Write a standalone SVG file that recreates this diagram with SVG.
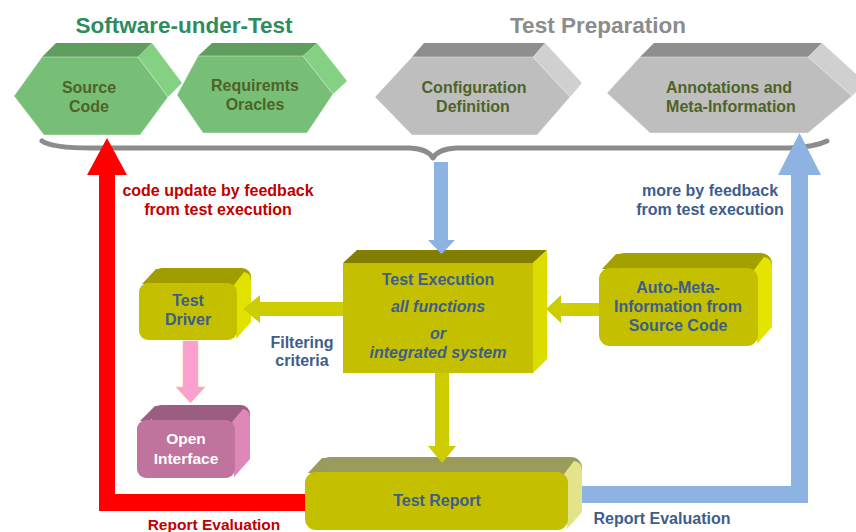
<svg xmlns="http://www.w3.org/2000/svg" width="856" height="532" viewBox="0 0 856 532">
  <style>
    text { font-family: "Liberation Sans", Arial, sans-serif; font-weight: bold; text-anchor: middle; }
    .title { font-size: 22.5px; }
    .hex { font-size: 16px; fill: #4f6228; }
    .lbl { font-size: 16px; fill: #3d5d8c; }
    .it { font-style: italic; }
    .red { fill: #c00000; }
    .white { fill: #ffffff; }
    .gFront { fill: #77bf77; }
    .gTop { fill: #5f9e5f; }
    .gSide { fill: #84d184; }
    .sFront { fill: #bebebe; }
    .sTop { fill: #8e8e8e; }
    .sSide { fill: #d0d0d0; }
    .edge { stroke: #eef6ee; stroke-width: 0.8; stroke-opacity: 0.6; }
    .yFront { fill: #c4c000; }
    .brace { fill: none; stroke: #8c8c8c; stroke-width: 5; stroke-linecap: round; stroke-linejoin: round; }
    .yArrow { fill: #cccc00; }
  </style>

  <!-- group headings -->
  <text class="title" x="184" y="33" fill="#2f8c5f">Software-under-Test</text>
  <text class="title" x="598" y="33" fill="#8c8c8c">Test Preparation</text>

  <!-- hexagonal input blocks -->
  <g id="source-code">
    <polygon class="gTop" points="42,57 56,43 152,43 138,57"/>
    <polygon class="gSide" points="138,57 152,43 182,83 168,97"/>
    <polygon class="gFront edge" points="14,96 42,57 138,57 168,97 140,135 44,135"/>
    <text class="hex" x="89" y="92.5">Source</text>
    <text class="hex" x="89" y="111.5">Code</text>
  </g>
  <g id="requirements-oracles">
    <polygon class="gTop" points="198,56 212,43 317,43 303,56"/>
    <polygon class="gSide" points="303,56 317,43 347,81 333,94"/>
    <polygon class="gFront edge" points="177,95 198,56 303,56 333,94 307,133 203,133"/>
    <text class="hex" x="255" y="90.5">Requiremts</text>
    <text class="hex" x="255" y="109.5">Oracles</text>
  </g>
  <g id="configuration-definition">
    <polygon class="sTop" points="412,57 424,43 545,43 533,57"/>
    <polygon class="sSide" points="533,57 545,43 582,83 570,97"/>
    <polygon class="sFront edge" points="375,97 412,57 533,57 570,97 537,135 412,135"/>
    <text class="hex" x="474" y="92.5">Configuration</text>
    <text class="hex" x="473" y="112">Definition</text>
  </g>
  <g id="annotations-meta">
    <polygon class="sTop" points="640,57 654,43 822,43 808,57"/>
    <polygon class="sSide" points="808,57 822,43 866,83 852,96"/>
    <polygon class="sFront edge" points="607,93 640,57 808,57 852,96 808,133 650,133"/>
    <text class="hex" x="729" y="92.5">Annotations and</text>
    <text class="hex" x="731" y="112">Meta-Information</text>
  </g>

  <!-- curly brace gathering the inputs -->
  <g id="brace">
    <path class="brace" d="M42,141 Q52,148 92,148 L410,148 Q428,149 433,158 Q438,149 456,148 L790,148 Q815,147 827,141"/>
  </g>

  <!-- processing blocks: back face, bevel top, bevel side, front face -->
  <g id="test-execution">
    <polygon fill="#827f00" points="343,263 357,250 547,250 533,263"/>
    <polygon fill="#dcdc00" points="533,263 547,250 547,359 533,373"/>
    <rect class="yFront" x="343" y="263" width="190" height="110"/>
    <text class="lbl" x="438" y="284.5">Test Execution</text>
    <text class="lbl it" x="438" y="311.5">all functions</text>
    <text class="lbl it" x="438" y="338.5">or</text>
    <text class="lbl it" x="438" y="357.5">integrated system</text>
  </g>

  <g id="test-driver">
    <rect fill="#a09d00" x="153" y="268" width="98" height="57" rx="9"/>
    <polygon fill="#a09d00" points="142,284 156,269 166,269 152,284"/>
    <path fill="#e2e200" d="M234,285 L244,272 Q251,273 251,281 L251,322 L236,339 Z"/>
    <rect class="yFront" x="139" y="283" width="98" height="57" rx="9"/>
    <text class="lbl" x="188" y="305.5">Test</text>
    <text class="lbl" x="188" y="324.5">Driver</text>
  </g>

  <g id="auto-meta-information">
    <rect fill="#a3a000" x="613" y="253" width="159" height="78" rx="11"/>
    <polygon fill="#a3a000" points="602,269 616,254 628,254 614,269"/>
    <path fill="#e4e400" d="M754,270 L764,257 Q772,258 772,267 L772,327 L757,344 Z"/>
    <rect class="yFront" x="599" y="268" width="159" height="78" rx="11"/>
    <text class="lbl" x="678" y="292.5">Auto-Meta-</text>
    <text class="lbl" x="678" y="311.5">Information from</text>
    <text class="lbl" x="678" y="331">Source Code</text>
  </g>

  <g id="open-interface">
    <rect fill="#9c5e80" x="152" y="405" width="98" height="58" rx="9"/>
    <polygon fill="#9c5e80" points="140,421 155,406 165,406 150,421"/>
    <path fill="#de88b8" d="M232,422 L243,409 Q250,410 250,418 L250,459 L234,477 Z"/>
    <rect fill="#c0739d" x="137" y="420" width="98" height="58" rx="9"/>
    <text class="white" x="186" y="443.5" font-size="15.5">Open</text>
    <text class="white" x="186" y="463.5" font-size="15.5">Interface</text>
  </g>

  <g id="test-report">
    <rect fill="#9c9b5e" x="319" y="457" width="263" height="60" rx="11"/>
    <polygon fill="#9c9b5e" points="308,473 322,458 334,458 320,473"/>
    <path fill="#e3e38a" d="M564,474 L574,461 Q582,462 582,471 L582,512 L567,529 Z"/>
    <rect class="yFront" x="305" y="472" width="263" height="58" rx="11"/>
    <text class="lbl" x="437" y="505.5">Test Report</text>
  </g>

  <!-- connectors -->
  <g id="connectors">
    <!-- feedback loop to the code -->
    <polygon fill="#ff0000" points="305,494 115,494 115,175 127,175 107,138 87,175 99,175 99,511 305,511"/>
    <!-- feedback loop to the meta information -->
    <polygon fill="#8db3e2" points="582,486 791,486 791,175 778,175 799.5,133 821,175 808,175 808,503 582,503"/>
    <!-- inputs into execution -->
    <polygon fill="#8db3e2" points="434,162 448,162 448,240 455,240 441.5,254 428,240 434,240"/>
    <!-- execution to driver -->
    <polygon class="yArrow" points="343,302 260,302 260,295 243,309 260,323 260,316 343,316"/>
    <!-- auto meta information into execution -->
    <polygon class="yArrow" points="599,303 561,303 561,295 546,309 561,323 561,316 599,316"/>
    <!-- execution to report -->
    <polygon class="yArrow" points="435,373 449,373 449,446 456,446 442,463 428,446 435,446"/>
    <!-- driver to open interface -->
    <polygon fill="#f9a0cf" stroke="#f4c48a" stroke-width="0.6" points="183,341 198,341 198,387 205,387 190.5,403 176,387 183,387"/>
  </g>

  <!-- connector labels -->
  <text class="red" x="218" y="195.5" font-size="16">code update by feedback</text>
  <text class="red" x="218" y="214.5" font-size="16">from test execution</text>
  <text class="lbl" x="710" y="195.5">more by feedback</text>
  <text class="lbl" x="710" y="214.5">from test execution</text>
  <text class="lbl" x="302" y="347.5">Filtering</text>
  <text class="lbl" x="302" y="365.5">criteria</text>
  <text class="red" x="214" y="529.5" font-size="15.5">Report Evaluation</text>
  <text class="lbl" x="662" y="523.5" font-size="15.5">Report Evaluation</text>
</svg>
